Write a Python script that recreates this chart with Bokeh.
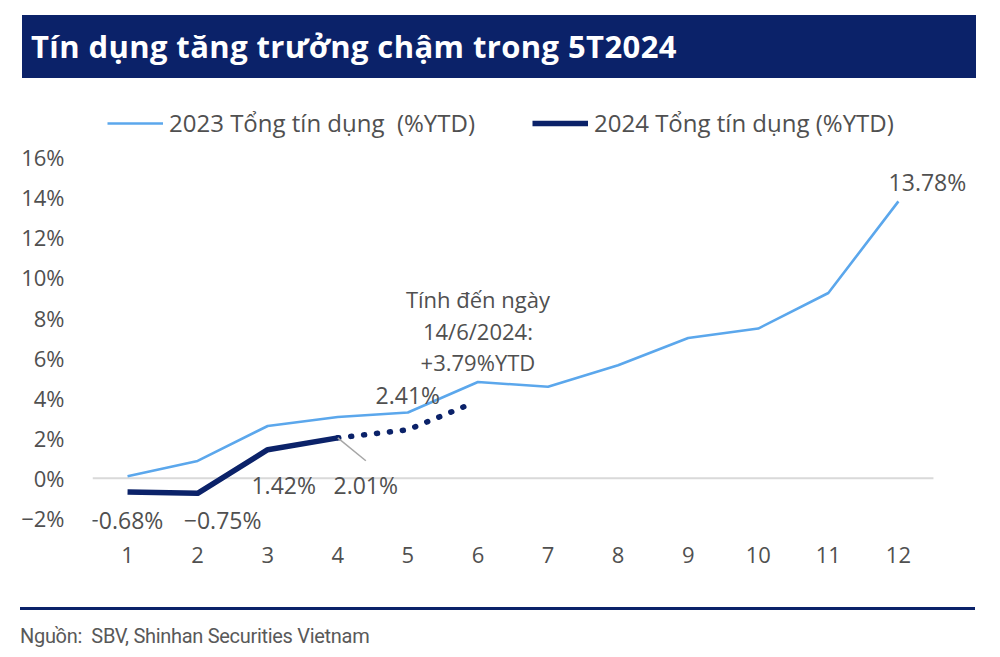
from bokeh.plotting import figure
from bokeh.models import (ColumnDataSource, Div, FixedTicker, CustomJSTickFormatter,
                          Legend, LegendItem, Range1d)
from bokeh.layouts import column
from bokeh.core.properties import value
from bokeh.embed import file_html
from bokeh.resources import INLINE

# ---------------- data ----------------
title = "Tín dụng tăng trưởng chậm trong 5T2024"
source_note = "Nguồn:&nbsp; SBV, Shinhan Securities Vietnam"
legend_2023 = "2023 Tổng tín dụng\u00a0 (%YTD)"
legend_2024 = "2024 Tổng tín dụng (%YTD)"

months = [1, 2, 3, 4, 5, 6, 7, 8, 9, 10, 11, 12]
credit_2023 = [0.10, 0.86, 2.60, 3.05, 3.27, 4.79, 4.55, 5.62, 6.98, 7.45, 9.22, 13.78]

months_2024 = [1, 2, 3, 4]
credit_2024 = [-0.68, -0.75, 1.42, 2.01]

est_months = [4, 5, 5.9]
est_credit = [2.01, 2.41, 3.70]

y_ticks = [-2, 0, 2, 4, 6, 8, 10, 12, 14, 16]
zero_x = [0.5, 12.5]
zero_y = [0, 0]

label_x = [1, 2, 3, 4, 5, 12]
label_y = [-0.68, -0.75, 1.42, 2.01, 2.41, 13.78]
label_text = ["\u22120.68%", "\u22120.75%", "1.42%", "2.01%", "2.41%", "13.78%"]
label_dx = [-3, 25, 16, 28, 0, 29]
label_dy = [28, 27, 35, 47, -35, -19]

leader_x = [4.0, 4.4]
leader_y = [2.01, 0.87]

note_lines = ["Tính đến ngày", "14/6/2024:", "+3.79%YTD"]
note_x = [6, 6, 6]
note_y = [3.79, 3.79, 3.79]
note_dy = [-103, -71, -40]

# ---------------- style ----------------
NAVY = "#0b2269"
LIGHT = "#5ba7ec"
TXT = "#505050"
FONT = "Open Sans"
FS = "22px"

title_div = Div(
    text=(f'<div style="width:954px;height:63px;background:{NAVY};color:#ffffff;'
          f'font-family:\'Open Sans\';font-weight:bold;font-size:31px;line-height:62px;'
          f'letter-spacing:0.4px;padding-left:9px;box-sizing:border-box;white-space:nowrap;">'
          f'{title}</div>'),
    width=954, height=63, margin=(15, 0, 0, 22))

p = figure(width=992, height=521, output_backend="svg", toolbar_location=None,
           x_range=Range1d(0.5, 13.1), y_range=Range1d(-3, 19),
           min_border_left=92, min_border_right=17, min_border_top=18, min_border_bottom=61,
           outline_line_color=None, margin=(0, 0, 0, 0))
p.grid.visible = False
p.background_fill_color = "white"

p.line(zero_x, zero_y, line_color="#d9d9d9", line_width=2)

r23 = p.line(months, credit_2023, line_color=LIGHT, line_width=2.6)
r24 = p.line(months_2024, credit_2024, line_color=NAVY, line_width=5.5, line_join="round")
p.line(est_months, est_credit, line_color=NAVY, line_width=5.5, line_dash="1 12",
       line_cap="round")

p.line(leader_x, leader_y, line_color="#a6a6a6", line_width=1.5)

lab = ColumnDataSource(dict(x=label_x, y=label_y, t=label_text, dx=label_dx, dy=label_dy))
p.text(x="x", y="y", text="t", x_offset="dx", y_offset="dy", source=lab,
       text_font=value(FONT), text_font_size="23px", text_color=TXT,
       text_align="center", text_baseline="middle")

note = ColumnDataSource(dict(x=note_x, y=note_y, t=note_lines, dy=note_dy))
p.text(x="x", y="y", text="t", y_offset="dy", source=note,
       text_font=value(FONT), text_font_size=FS, text_color=TXT,
       text_align="center", text_baseline="middle")

for ax in (p.xaxis[0], p.yaxis[0]):
    ax.axis_line_color = None
    ax.major_tick_line_color = None
    ax.minor_tick_line_color = None
    ax.major_label_text_font = FONT
    ax.major_label_text_font_size = FS
    ax.major_label_text_color = TXT

p.xaxis.ticker = FixedTicker(ticks=months)
p.xaxis.major_label_standoff = 2
p.yaxis.ticker = FixedTicker(ticks=y_ticks)
p.yaxis.major_label_standoff = 22
p.yaxis.formatter = CustomJSTickFormatter(
    code="return (tick < 0 ? '\\u2212' : '') + Math.abs(tick) + '%';")

legend = Legend(items=[LegendItem(label=legend_2023, renderers=[r23]),
                       LegendItem(label=legend_2024, renderers=[r24])],
                orientation="horizontal", location=(15, 399),
                label_text_font=FONT, label_text_font_size="24px", label_text_color=TXT,
                glyph_width=56, glyph_height=24, label_height=24, label_standoff=6,
                spacing=57, padding=0, margin=0, border_line_color=None,
                background_fill_alpha=0)
p.add_layout(legend, "center")

source_div = Div(
    text=(f'<div style="width:955px;border-top:3px solid {NAVY};padding-top:15px;'
          f'font-family:Roboto;font-size:20px;line-height:22px;color:#595959;'
          f'letter-spacing:-0.3px;white-space:nowrap;">{source_note}</div>'),
    width=955, height=40, margin=(8, 0, 0, 20))

layout = column(title_div, p, source_div, spacing=0)
open("out.html", "w").write(file_html(layout, INLINE))
